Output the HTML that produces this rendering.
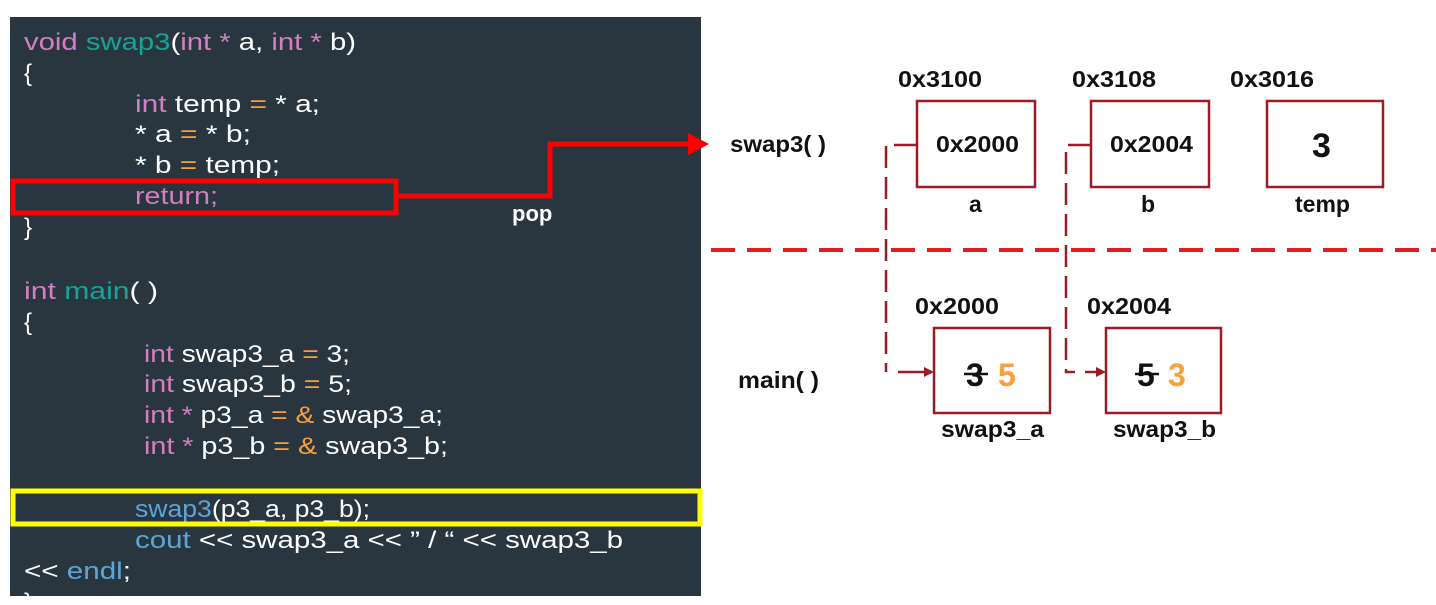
<!DOCTYPE html>
<html><head><meta charset="utf-8"><style>
html,body{margin:0;padding:0;background:#fff;}
svg{display:block;}
.c{font-family:"Liberation Sans",sans-serif;font-size:24px;fill:#fff;}
.k{fill:#d17fc0}.f{fill:#17a398}.o{fill:#f7a03c}.b{fill:#5ea5d6}
.d{font-family:"Liberation Sans",sans-serif;font-weight:bold;fill:#111;}
</style></head><body>
<svg width="1436" height="605" viewBox="0 0 1436 605" xmlns="http://www.w3.org/2000/svg">
<rect x="10" y="17" width="691" height="579" fill="#29363f"/>
<g class="c">
<text x="24" y="50" textLength="332" lengthAdjust="spacingAndGlyphs"><tspan class="k">void </tspan><tspan class="f">swap3</tspan>(<tspan class="k">int * </tspan>a, <tspan class="k">int * </tspan>b)</text>
<text x="24" y="81">{</text>
<text x="135" y="112" textLength="185" lengthAdjust="spacingAndGlyphs"><tspan class="k">int </tspan>temp <tspan class="o">=</tspan> * a;</text>
<text x="135" y="142" textLength="116" lengthAdjust="spacingAndGlyphs">* a <tspan class="o">=</tspan> * b;</text>
<text x="135" y="173" textLength="145" lengthAdjust="spacingAndGlyphs">* b <tspan class="o">=</tspan> temp;</text>
<text x="135" y="204" textLength="83" lengthAdjust="spacingAndGlyphs" class="k">return;</text>
<text x="24" y="235">}</text>
<text x="24" y="299" textLength="134" lengthAdjust="spacingAndGlyphs"><tspan class="k">int </tspan><tspan class="f">main</tspan>( )</text>
<text x="24" y="330">{</text>
<text x="144" y="362" textLength="206" lengthAdjust="spacingAndGlyphs"><tspan class="k">int </tspan>swap3_a <tspan class="o">=</tspan> 3;</text>
<text x="144" y="392" textLength="208" lengthAdjust="spacingAndGlyphs"><tspan class="k">int </tspan>swap3_b <tspan class="o">=</tspan> 5;</text>
<text x="144" y="423" textLength="299" lengthAdjust="spacingAndGlyphs"><tspan class="k">int * </tspan>p3_a <tspan class="o">= &amp;</tspan> swap3_a;</text>
<text x="144" y="454" textLength="304" lengthAdjust="spacingAndGlyphs"><tspan class="k">int * </tspan>p3_b <tspan class="o">= &amp;</tspan> swap3_b;</text>
<text x="135" y="517" textLength="235" lengthAdjust="spacingAndGlyphs"><tspan class="b">swap3</tspan>(p3_a, p3_b);</text>
<text x="135" y="548" textLength="488" lengthAdjust="spacingAndGlyphs"><tspan class="b">cout</tspan> &lt;&lt; swap3_a &lt;&lt; ” / “ &lt;&lt; swap3_b</text>
<text x="24" y="579" textLength="107" lengthAdjust="spacingAndGlyphs">&lt;&lt; <tspan class="b">endl</tspan>;</text>
<text x="24" y="610">}</text>
<text x="512" y="221" font-size="22" font-weight="bold">pop</text>
</g>
<rect x="13" y="181" width="383" height="32" fill="none" stroke="#f00" stroke-width="5"/>
<polyline points="396,196 550,196 550,144 690,144" fill="none" stroke="#f00" stroke-width="5"/>
<polygon points="688,133 709,144 688,155" fill="#f00"/>
<rect x="13" y="491" width="687" height="33" fill="none" stroke="#ff0" stroke-width="5"/>
<line x1="711" y1="250" x2="1436" y2="250" stroke="#e02020" stroke-width="4" stroke-dasharray="24,12"/>
<g fill="none" stroke="#9b1c24" stroke-width="2.5">
<rect x="917" y="101" width="118" height="86"/>
<rect x="1091" y="101" width="118" height="86"/>
<rect x="1267" y="101" width="116" height="86"/>
<rect x="934" y="328" width="116" height="85"/>
<rect x="1106" y="328" width="115" height="85"/>
<polyline points="916,145 886,145 886,372" stroke-dasharray="22,9"/>
<polyline points="1090,145 1066,145 1066,372 1075,372" stroke-dasharray="22,9"/>
<line x1="898" y1="372" x2="926" y2="372"/>
<line x1="1085" y1="372" x2="1098" y2="372"/>
</g>
<polygon points="924,367 934,372 924,377" fill="#9b1c24"/>
<polygon points="1096,367 1106,372 1096,377" fill="#9b1c24"/>
<g class="d" font-size="23">
<text x="898" y="87" textLength="84" lengthAdjust="spacingAndGlyphs">0x3100</text>
<text x="1072" y="87" textLength="84" lengthAdjust="spacingAndGlyphs">0x3108</text>
<text x="1230" y="87" textLength="84" lengthAdjust="spacingAndGlyphs">0x3016</text>
<text x="936" y="152" textLength="83" lengthAdjust="spacingAndGlyphs">0x2000</text>
<text x="1110" y="152" textLength="83" lengthAdjust="spacingAndGlyphs">0x2004</text>
<text x="730" y="152" textLength="96" lengthAdjust="spacingAndGlyphs">swap3( )</text>
<text x="969" y="212">a</text>
<text x="1141" y="212">b</text>
<text x="1295" y="212">temp</text>
<text x="915" y="314" textLength="84" lengthAdjust="spacingAndGlyphs">0x2000</text>
<text x="1087" y="314" textLength="84" lengthAdjust="spacingAndGlyphs">0x2004</text>
<text x="738" y="388" textLength="81" lengthAdjust="spacingAndGlyphs">main( )</text>
<text x="941" y="437" textLength="103" lengthAdjust="spacingAndGlyphs">swap3_a</text>
<text x="1113" y="437" textLength="103" lengthAdjust="spacingAndGlyphs">swap3_b</text>
<text x="1312" y="157" font-size="34">3</text>
<text x="966" y="386" font-size="32">3</text>
<text x="998" y="386" font-size="32" fill="#f7a03c">5</text>
<text x="1137" y="386" font-size="32">5</text>
<text x="1168" y="386" font-size="32" fill="#f7a03c">3</text>
</g>
<line x1="964" y1="374" x2="988" y2="374" stroke="#111" stroke-width="2.5"/>
<line x1="1135" y1="374" x2="1159" y2="374" stroke="#111" stroke-width="2.5"/>
</svg>
</body></html>
